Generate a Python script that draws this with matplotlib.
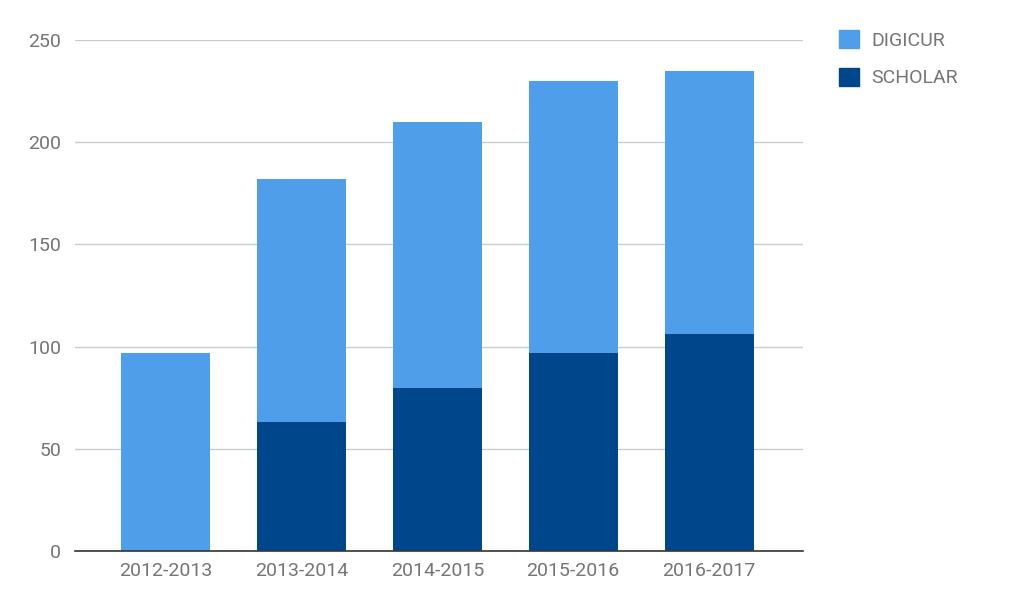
import matplotlib
matplotlib.use("Agg")
import matplotlib.pyplot as plt
from matplotlib.patches import Patch

plt.rcParams['font.family'] = ['Roboto', 'DejaVu Sans']

categories = ["2012-2013", "2013-2014", "2014-2015", "2015-2016", "2016-2017"]
scholar = [0, 63, 80, 97, 106]
digicur = [97, 119, 130, 133, 129]
yticks = [0, 50, 100, 150, 200, 250]

c_light = "#4F9EEA"
c_dark = "#00468B"
tick_color = "#757575"

fig = plt.figure(figsize=(10.10, 6.13), dpi=100)
ax = fig.add_axes([0.0743, 0.1011, 0.7207, 0.8336])

x = list(range(len(categories)))
ax.bar(x, scholar, width=0.655, color=c_dark, zorder=3)
ax.bar(x, digicur, bottom=scholar, width=0.655, color=c_light, zorder=3)

ax.set_xlim(-0.665, 4.69)
ax.set_ylim(0, 250)
ax.set_yticks(yticks)
ax.set_xticks(x)
ax.set_xticklabels(categories)
ax.grid(axis='y', color="#cccccc", linewidth=1, zorder=0)
for s in ['top', 'right', 'left']:
    ax.spines[s].set_visible(False)
ax.spines['bottom'].set_color("#333333")
ax.spines['bottom'].set_linewidth(1.2)
ax.spines['bottom'].set_zorder(4)
ax.tick_params(axis='both', length=0, labelsize=14, colors=tick_color)
ax.tick_params(axis='y', pad=10)
ax.tick_params(axis='x', pad=8)

handles = [Patch(color=c_light, label="DIGICUR"), Patch(color=c_dark, label="SCHOLAR")]
fig.legend(handles=handles, loc='upper left', bbox_to_anchor=(0.813, 0.979),
           frameon=False, fontsize=14, labelcolor=tick_color,
           handlelength=1.05, handleheight=1.05, handletextpad=0.65, labelspacing=0.9)

fig.savefig("out.png", dpi=100, facecolor="white")
